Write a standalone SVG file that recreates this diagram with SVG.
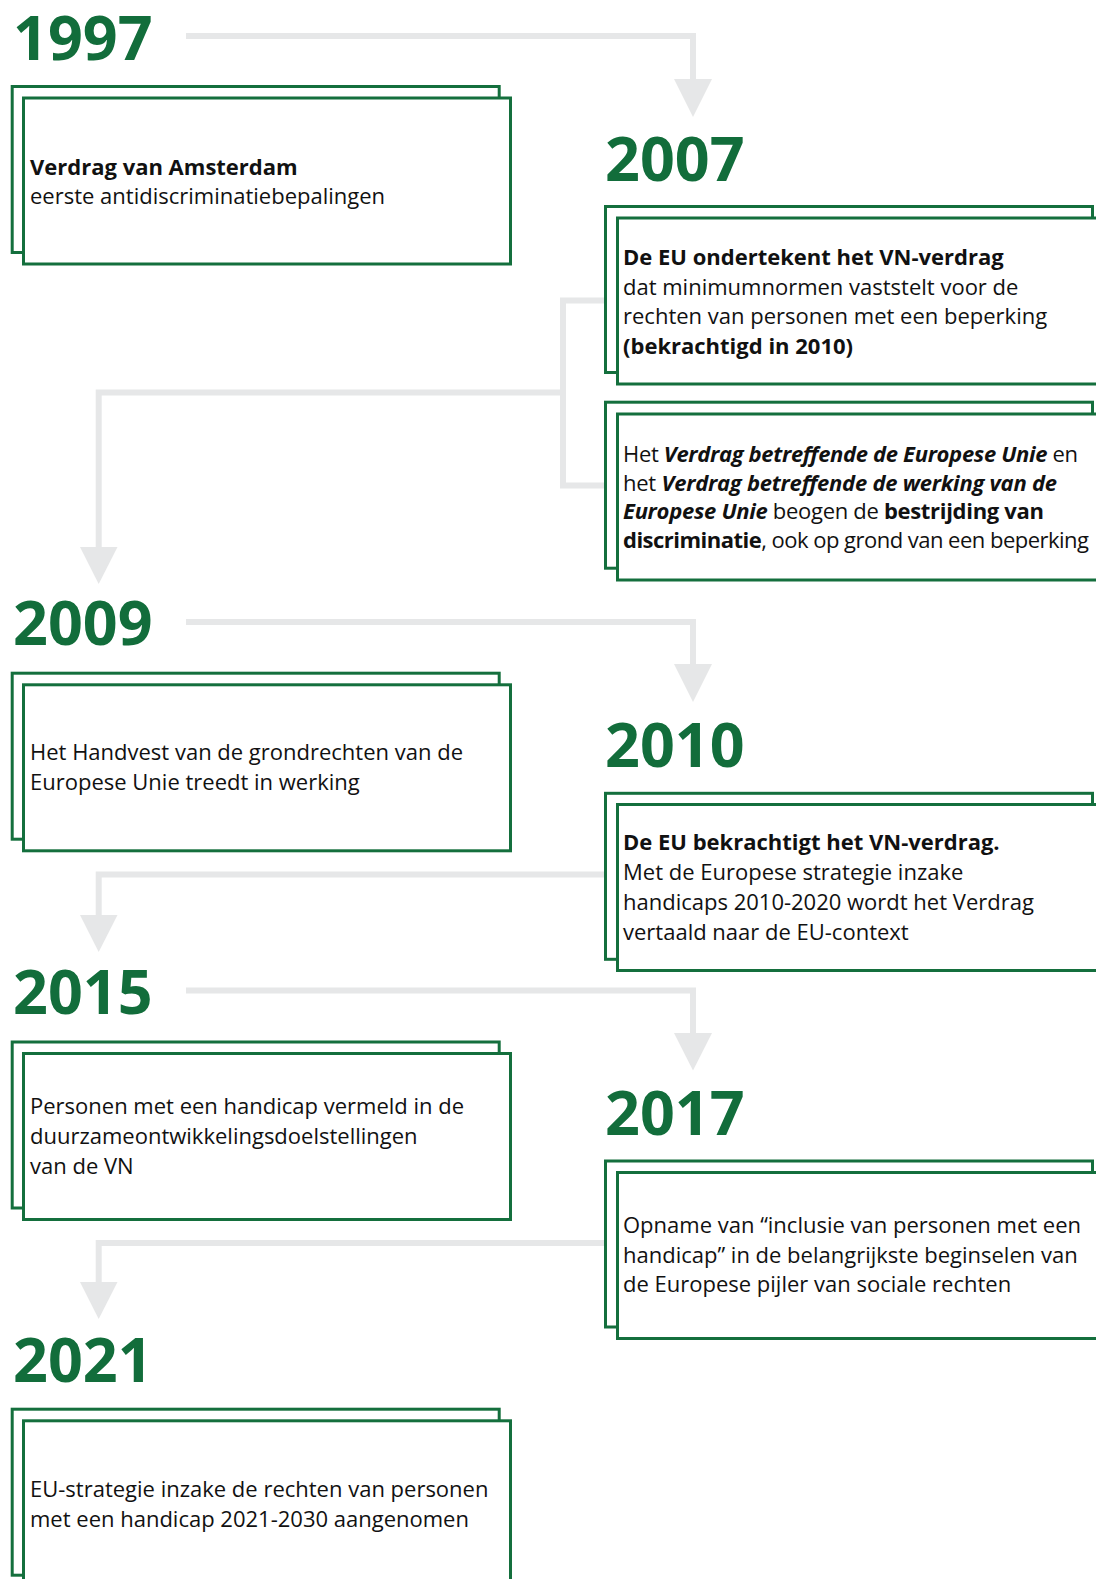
<svg xmlns="http://www.w3.org/2000/svg" width="1096" height="1579" viewBox="0 0 1096 1579">
<defs>
<style>
.yr{font-family:"Open Sans","Liberation Sans",sans-serif;font-weight:700;font-size:61px;fill:#126d3b}
.tx{font-family:"Open Sans","Liberation Sans",sans-serif;font-size:22px;fill:#111}
.b{font-weight:700}
.bi{font-weight:700;font-style:italic}
.bk{fill:#fff;stroke:#146f3d;stroke-width:3}
.fr{fill:#fff;stroke:#146f3d;stroke-width:3}
.cn{fill:none;stroke:#e6e7e8;stroke-width:6}
.ah{fill:#e6e7e8}
</style>
</defs>
<rect width="1096" height="1579" fill="#fff"/>
<g id="connectors">
<path class="cn" d="M186,36 H693 V82"/>
<polygon class="ah" points="674,79 712,79 693,117"/>
<path class="cn" d="M606,300.5 H563 V485.5 H606 M563,392.5 H98.7 V550"/>
<polygon class="ah" points="80,547 117.5,547 98.7,584"/>
<path class="cn" d="M186,622 H693 V667"/>
<polygon class="ah" points="674,664 712,664 693,702"/>
<path class="cn" d="M606,874.5 H98.7 V918"/>
<polygon class="ah" points="80,915 117.5,915 98.7,952"/>
<path class="cn" d="M186,990.5 H693 V1036"/>
<polygon class="ah" points="674,1033 712,1033 693,1070.5"/>
<path class="cn" d="M606,1243 H98.7 V1285"/>
<polygon class="ah" points="80,1282 117.5,1282 98.7,1319"/>
</g>
<g id="n1997">
<text class="yr" x="13" y="60">1997</text>
<rect class="bk" x="12.2" y="86.5" width="487" height="166"/>
<rect class="fr" x="23.5" y="98" width="487" height="166"/>
<text class="tx" x="30" y="175"><tspan class="b">Verdrag van Amsterdam</tspan><tspan x="30" dy="29">eerste antidiscriminatiebepalingen</tspan></text>
</g>
<g id="n2007a">
<text class="yr" x="605" y="181">2007</text>
<rect class="bk" x="605.5" y="206.5" width="487" height="166"/>
<rect class="fr" x="617.5" y="218" width="487" height="166"/>
<text class="tx" x="623" y="265"><tspan class="b">De EU ondertekent het VN-verdrag</tspan><tspan x="623" dy="29.6">dat minimumnormen vaststelt voor de</tspan><tspan x="623" dy="29.6">rechten van personen met een beperking</tspan><tspan x="623" dy="29.6" class="b">(bekrachtigd in 2010)</tspan></text>
</g>
<g id="n2007b">
<rect class="bk" x="605.5" y="402.2" width="487" height="166"/>
<rect class="fr" x="617.5" y="414" width="487" height="166"/>
<text class="tx" x="623" y="462" textLength="455" lengthAdjust="spacing">Het <tspan class="bi">Verdrag betreffende de Europese Unie</tspan> en</text>
<text class="tx" x="623" y="490.7" textLength="434" lengthAdjust="spacing">het <tspan class="bi">Verdrag betreffende de werking van de</tspan></text>
<text class="tx" x="623" y="519.4" textLength="421" lengthAdjust="spacing"><tspan class="bi">Europese Unie</tspan> beogen de <tspan class="b">bestrijding van</tspan></text>
<text class="tx" x="623" y="548.1" textLength="466" lengthAdjust="spacing"><tspan class="b">discriminatie</tspan>, ook op grond van een beperking</text>
</g>
<g id="n2009">
<text class="yr" x="13" y="645">2009</text>
<rect class="bk" x="12.2" y="673.2" width="487" height="166"/>
<rect class="fr" x="23.5" y="684.8" width="487" height="166"/>
<text class="tx" x="30" y="760">Het Handvest van de grondrechten van de<tspan x="30" dy="30">Europese Unie treedt in werking</tspan></text>
</g>
<g id="n2010">
<text class="yr" x="605" y="766.5">2010</text>
<rect class="bk" x="605.5" y="793.3" width="487" height="166"/>
<rect class="fr" x="617.5" y="804.5" width="487" height="166"/>
<text class="tx" x="623" y="850"><tspan class="b">De EU bekrachtigt het VN-verdrag.</tspan><tspan x="623" dy="30">Met de Europese strategie inzake</tspan><tspan x="623" dy="30">handicaps 2010-2020 wordt het Verdrag</tspan><tspan x="623" dy="30">vertaald naar de EU-context</tspan></text>
</g>
<g id="n2015">
<text class="yr" x="13" y="1013.5">2015</text>
<rect class="bk" x="12.2" y="1042" width="487" height="166"/>
<rect class="fr" x="23.5" y="1053.5" width="487" height="166"/>
<text class="tx" x="30" y="1114">Personen met een handicap vermeld in de<tspan x="30" dy="30">duurzameontwikkelingsdoelstellingen</tspan><tspan x="30" dy="30">van de VN</tspan></text>
</g>
<g id="n2017">
<text class="yr" x="605" y="1134.5">2017</text>
<rect class="bk" x="605.5" y="1161" width="487" height="166"/>
<rect class="fr" x="617.5" y="1172.5" width="487" height="166"/>
<text class="tx" x="623" y="1233">Opname van “inclusie van personen met een<tspan x="623" dy="29.7">handicap” in de belangrijkste beginselen van</tspan><tspan x="623" dy="29.7">de Europese pijler van sociale rechten</tspan></text>
</g>
<g id="n2021">
<text class="yr" x="13" y="1381.7">2021</text>
<rect class="bk" x="12.2" y="1409.2" width="487" height="166"/>
<rect class="fr" x="23.5" y="1420.8" width="487" height="166"/>
<text class="tx" x="30" y="1497">EU-strategie inzake de rechten van personen<tspan x="30" dy="29.5">met een handicap 2021-2030 aangenomen</tspan></text>
</g>
</svg>
